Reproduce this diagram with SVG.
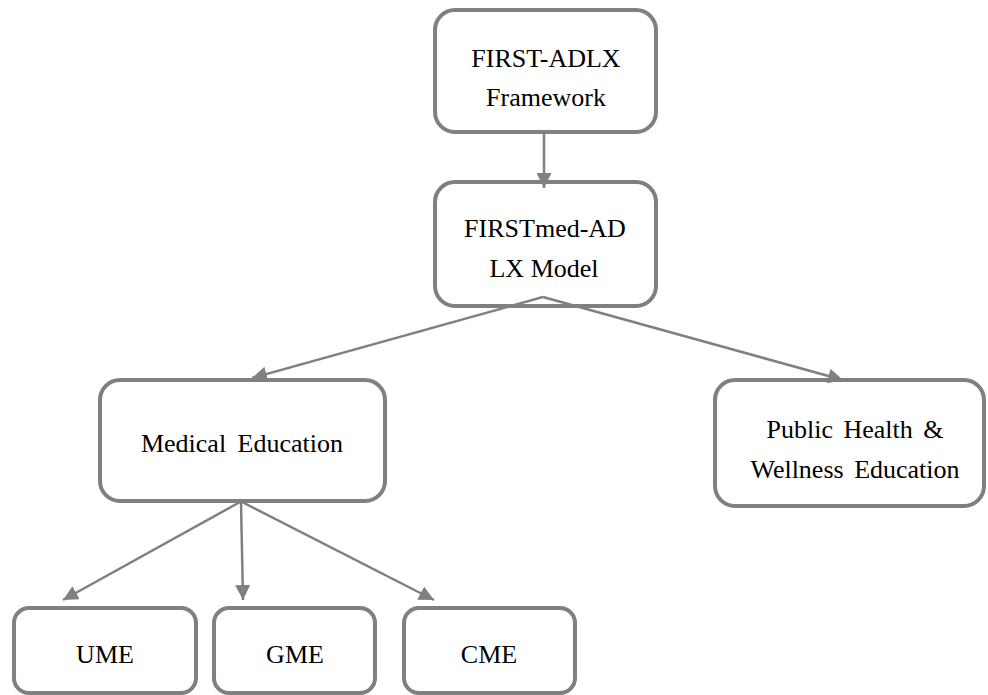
<svg xmlns="http://www.w3.org/2000/svg" width="988" height="695" viewBox="0 0 988 695">
<style>
.box{fill:#ffffff;stroke:#808080;stroke-width:4}
.t{font-family:'Liberation Serif','DejaVu Serif',serif;font-size:26px;fill:#000000}
.c{text-anchor:middle}
.e{stroke:#808080;stroke-width:2.5;fill:none}
</style>
<defs>
<marker id="ah" viewBox="0 0 15 15" refX="15" refY="7.5" markerWidth="15" markerHeight="15" markerUnits="userSpaceOnUse" orient="auto">
<path d="M0,0 L15,7.5 L0,15 z" fill="#808080"/>
</marker>
</defs>
<rect width="988" height="695" fill="#ffffff"/>
<g id="n-framework">
<rect class="box" x="435" y="10" width="221" height="122" rx="20"/>
<text class="t c" x="546" y="67">FIRST-ADLX</text>
<text class="t c" x="546" y="106">Framework</text>
</g>
<g id="n-model">
<rect class="box" x="435" y="182" width="221" height="124" rx="20"/>
<text class="t c" x="545" y="237">FIRSTmed-AD</text>
<text class="t c" x="544" y="277">LX Model</text>
</g>
<g id="n-medical">
<rect class="box" x="100" y="380" width="285" height="121" rx="20"/>
<text class="t c" x="242" y="452" word-spacing="5">Medical Education</text>
</g>
<g id="n-public">
<rect class="box" x="715" y="380" width="269" height="126" rx="20"/>
<text class="t c" x="855" y="438" word-spacing="4">Public Health &amp;</text>
<text class="t c" x="855" y="478" word-spacing="4">Wellness Education</text>
</g>
<g id="n-ume">
<rect class="box" x="14" y="608" width="182" height="85" rx="15"/>
<text class="t c" x="105" y="663">UME</text>
</g>
<g id="n-gme">
<rect class="box" x="214" y="608" width="161" height="85" rx="15"/>
<text class="t c" x="295" y="663">GME</text>
</g>
<g id="n-cme">
<rect class="box" x="404" y="608" width="171" height="85" rx="15"/>
<text class="t c" x="489" y="663">CME</text>
</g>
<g id="connectors">
<line class="e" x1="544" y1="134" x2="544" y2="188" marker-end="url(#ah)"/>
<line class="e" x1="543" y1="297" x2="252" y2="378" marker-end="url(#ah)"/>
<line class="e" x1="543" y1="297" x2="843" y2="380" marker-end="url(#ah)"/>
<line class="e" x1="240" y1="502" x2="63" y2="600" marker-end="url(#ah)"/>
<line class="e" x1="241" y1="502" x2="243" y2="600" marker-end="url(#ah)"/>
<line class="e" x1="242" y1="502" x2="434" y2="600" marker-end="url(#ah)"/>
</g>
</svg>
